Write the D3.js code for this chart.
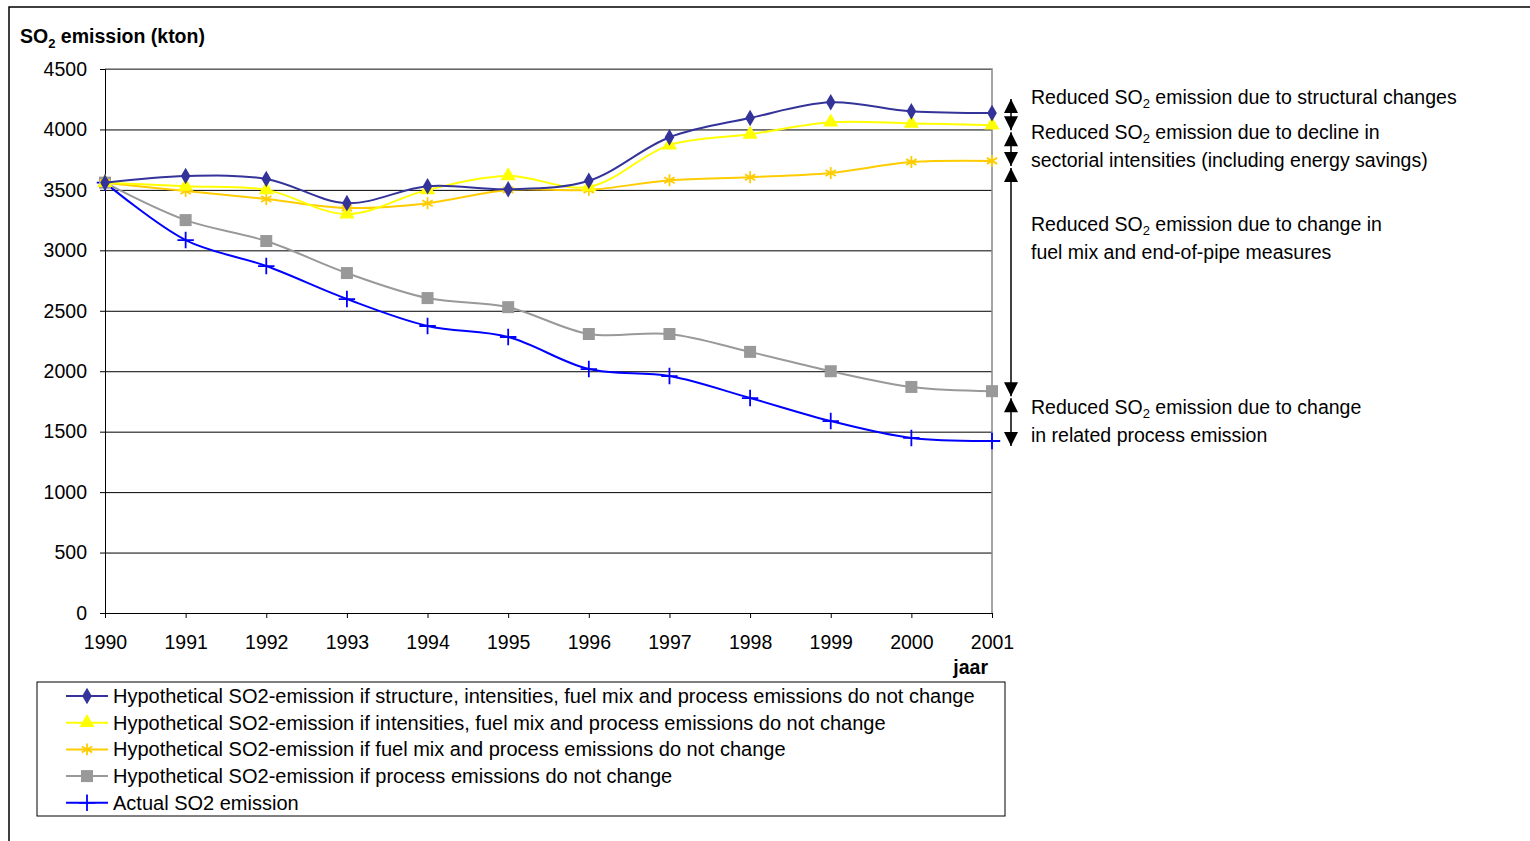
<!DOCTYPE html>
<html><head>
<meta charset="utf-8">
<script src="https://d3js.org/d3.v7.min.js"></script>
<style>
  body { margin: 0; background: #fff; }
  text { font-family: "Liberation Sans", Arial, sans-serif; fill: #000; }
  .gridlines line { stroke: #000; stroke-width: 1; }
  .gridlines .domain { stroke: none; }
  .axis text { font-size: 19.5px; font-family: "Liberation Sans", Arial, sans-serif; }
</style>
</head>
<body>
<svg id="chart" width="1530" height="841"></svg>
<script>
// data
const years = [1990, 1991, 1992, 1993, 1994, 1995, 1996, 1997, 1998, 1999, 2000, 2001];
const structureValues = [3560, 3615, 3590, 3390, 3530, 3505, 3575, 3935, 4095, 4225, 4150, 4135];
const intensityValues = [3560, 3530, 3500, 3300, 3500, 3615, 3525, 3870, 3960, 4060, 4050, 4035];
const fuelMixValues   = [3560, 3490, 3425, 3350, 3390, 3500, 3500, 3580, 3605, 3640, 3730, 3740];
const processValues   = [3560, 3250, 3077, 2812, 2605, 2530, 2308, 2308, 2160, 2000, 1870, 1835];
const actualValues    = [3560, 3085, 2870, 2597, 2374, 2283, 2018, 1960, 1778, 1588, 1448, 1423];
const yTicks = [0, 500, 1000, 1500, 2000, 2500, 3000, 3500, 4000, 4500];

const seriesNames = [
  "Hypothetical SO2-emission if structure, intensities, fuel mix and process emissions do not change",
  "Hypothetical SO2-emission if intensities, fuel mix and process emissions do not change",
  "Hypothetical SO2-emission if fuel mix and process emissions do not change",
  "Hypothetical SO2-emission if process emissions do not change",
  "Actual SO2 emission"
];
const seriesValues = [structureValues, intensityValues, fuelMixValues, processValues, actualValues];
const seriesColors = ["#333399", "#FFFF00", "#FFCC00", "#999999", "#0000FF"];
const seriesMarkers = ["diamond", "triangle", "star", "square", "cross"];

const svg = d3.select("#chart");
const margin = {left: 105, right: 992, top: 69, bottom: 613};
const fs = 19.5;

// outer frame (top and left edges)
svg.append("path").attr("d", "M9,841 V7 H1530").attr("fill", "none").attr("stroke", "#000").attr("stroke-width", 1.5);

const x = d3.scaleLinear().domain([1990, 2001]).range([margin.left, margin.right]);
const y = d3.scaleLinear().domain([0, 4500]).range([margin.bottom, margin.top]);

// gridlines
svg.append("g").attr("class", "gridlines")
  .attr("transform", "translate(" + margin.left + ",0)")
  .call(d3.axisLeft(y).tickValues(yTicks.slice(1)).tickSize(-(margin.right - margin.left)).tickFormat(""));

// plot border right + top grey
svg.append("path").attr("d", `M${margin.left},${margin.top} H${margin.right} V${margin.bottom}`)
  .attr("fill", "none").attr("stroke", "#888").attr("stroke-width", 1.5);

// y axis
let yAxis = svg.append("g").attr("class", "axis")
  .attr("transform", "translate(" + margin.left + ",0)")
  .call(d3.axisLeft(y).tickValues(yTicks).tickFormat(d3.format("d")).tickSize(5).tickPadding(13));
yAxis.selectAll("line, path").attr("stroke", "#000");

// x axis
let xAxis = svg.append("g").attr("class", "axis")
  .attr("transform", "translate(0," + margin.bottom + ")")
  .call(d3.axisBottom(x).tickValues(years).tickFormat(d3.format("d")).tickSize(5).tickPadding(17));
xAxis.selectAll("line, path").attr("stroke", "#000");

// titles
let title = svg.append("text").attr("x", 20).attr("y", 43).attr("font-size", fs).attr("font-weight", "bold");
title.append("tspan").text("SO");
title.append("tspan").text("2").attr("font-size", 13).attr("dy", 5);
title.append("tspan").text(" emission (kton)").attr("dy", -5);
svg.append("text").attr("x", 988).attr("y", 674).attr("text-anchor", "end")
  .attr("font-size", fs).attr("font-weight", "bold").text("jaar");

function marker(g, type, color, cx, cy) {
  if (type === "diamond") {
    g.append("path").attr("d", d3.symbol(d3.symbolDiamond, 80)()).attr("transform", `translate(${cx},${cy})`).attr("fill", color);
  } else if (type === "triangle") {
    g.append("path").attr("d", d3.symbol(d3.symbolTriangle, 100)()).attr("transform", `translate(${cx},${cy})`).attr("fill", color);
  } else if (type === "square") {
    g.append("rect").attr("x", cx - 6).attr("y", cy - 6).attr("width", 12).attr("height", 12).attr("fill", color);
  } else if (type === "star") {
    g.append("path").attr("d", d3.symbol(d3.symbolAsterisk, 100)()).attr("transform", `translate(${cx},${cy})`)
      .attr("fill", "none").attr("stroke", color).attr("stroke-width", 1.8);
  } else {
    g.append("path").attr("d", d3.symbol(d3.symbolPlus, 90)()).attr("transform", `translate(${cx},${cy})`)
      .attr("fill", "none").attr("stroke", color).attr("stroke-width", 1.8);
  }
}

const line = d3.line().x((d, i) => x(years[i])).y(d => y(d)).curve(d3.curveCatmullRom.alpha(0.5));

// draw series, the first drawn at the back
for (let s = seriesValues.length - 1; s >= 0; s--) {
  let g = svg.append("g");
  g.append("path").attr("d", line(seriesValues[s])).attr("fill", "none")
    .attr("stroke", seriesColors[s]).attr("stroke-width", 2);
  seriesValues[s].forEach((v, i) => marker(g, seriesMarkers[s], seriesColors[s], x(years[i]), y(v)));
}

// double-headed arrows on the right
const arrowX = 1011;
const lastIdx = years.length - 1;
const bounds = [structureValues[lastIdx], intensityValues[lastIdx], fuelMixValues[lastIdx], processValues[lastIdx], actualValues[lastIdx]];
for (let k = 0; k < bounds.length - 1; k++) {
  let y1 = k === 0 ? y(bounds[k]) - 14 : y(bounds[k]) + 7;
  let y2 = y(bounds[k + 1]) + 5;
  svg.append("line").attr("x1", arrowX).attr("x2", arrowX).attr("y1", y1).attr("y2", y2).attr("stroke", "#000").attr("stroke-width", 1.5);
  svg.append("path").attr("d", `M${arrowX},${y1} l-7,14 h14 z`);
  svg.append("path").attr("d", `M${arrowX},${y2} l-7,-14 h14 z`);
}

// annotation texts
const notes = [
  {y: 104, lines: [["Reduced SO", "2", " emission due to structural changes"]]},
  {y: 139, lines: [["Reduced SO", "2", " emission due to decline in"], ["sectorial intensities (including energy savings)"]]},
  {y: 231, lines: [["Reduced SO", "2", " emission due to change in"], ["fuel mix and end-of-pipe measures"]]},
  {y: 414, lines: [["Reduced SO", "2", " emission due to change"], ["in related process emission"]]}
];
notes.forEach(n => {
  n.lines.forEach((parts, j) => {
    let t = svg.append("text").attr("x", 1031).attr("y", n.y + j * 28).attr("font-size", fs);
    t.append("tspan").text(parts[0]);
    if (parts.length > 1) {
      t.append("tspan").text(parts[1]).attr("font-size", 13).attr("dy", 4);
      t.append("tspan").text(parts[2]).attr("dy", -4);
    }
  });
});

// legend
svg.append("rect").attr("x", 37).attr("y", 682).attr("width", 968).attr("height", 134)
  .attr("fill", "#fff").attr("stroke", "#000").attr("stroke-width", 1);
seriesNames.forEach((name, i) => {
  let ly = 696 + i * 26.7;
  let g = svg.append("g");
  g.append("line").attr("x1", 66).attr("x2", 108).attr("y1", ly).attr("y2", ly)
    .attr("stroke", seriesColors[i]).attr("stroke-width", 2);
  marker(g, seriesMarkers[i], seriesColors[i], 87, ly);
  svg.append("text").attr("x", 113).attr("y", ly + 7).attr("font-size", 20).text(name);
});
</script>
</body></html>
